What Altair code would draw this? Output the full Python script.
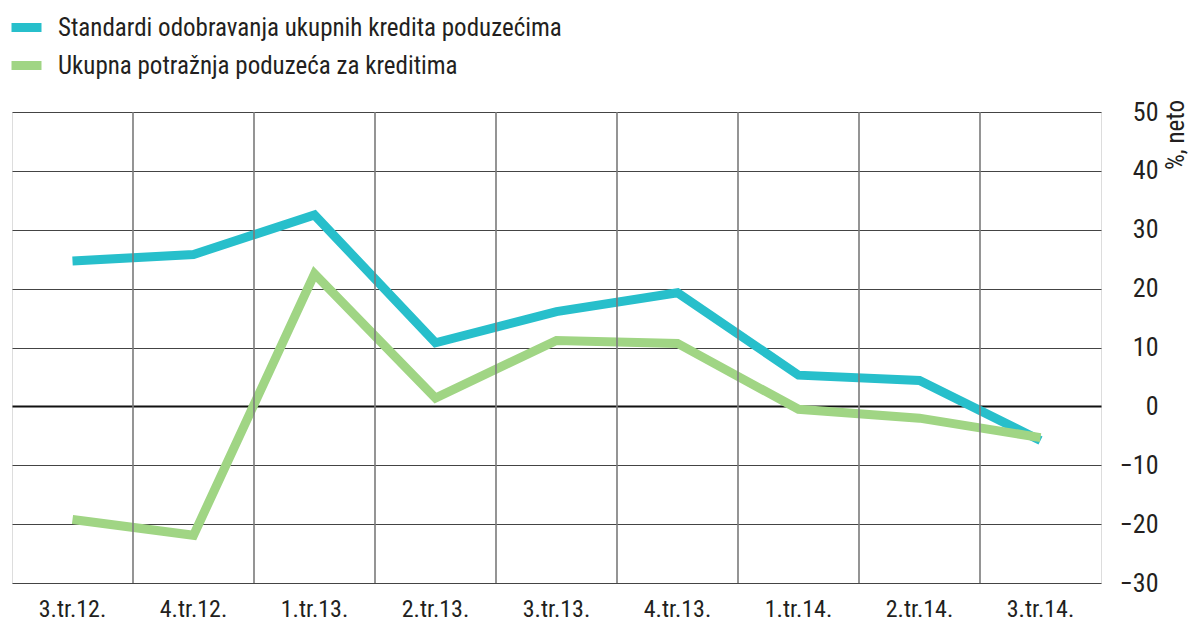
import altair as alt
import pandas as pd

quarters = ["3.tr.12.", "4.tr.12.", "1.tr.13.", "2.tr.13.", "3.tr.13.",
            "4.tr.13.", "1.tr.14.", "2.tr.14.", "3.tr.14."]
series_names = ["Standardi odobravanja ukupnih kredita poduzećima",
                "Ukupna potražnja poduzeća za kreditima"]
standards = [24.7, 25.8, 32.5, 10.8, 16.1, 19.3, 5.3, 4.4, -5.8]
demand = [-19.2, -21.9, 22.5, 1.4, 11.2, 10.7, -0.5, -2.0, -5.3]
colors = ["#27BFCB", "#A0D584"]
y_ticks = [-30, -20, -10, 0, 10, 20, 30, 40, 50]
y_title = "%, neto"

FONT = "Roboto Condensed, DejaVu Sans Condensed, sans-serif"
TXT = "#231f20"

rows = []
for name, vals in zip(series_names, [standards, demand]):
    for q, v in zip(quarters, vals):
        rows.append({"q": q, "v": v, "s": name})
df = pd.DataFrame(rows)

x_scale = alt.Scale(domain=quarters, paddingInner=0, paddingOuter=0)
y_scale = alt.Scale(domain=[-30, 50], nice=False, zero=False)

lines = alt.Chart(df).mark_line(strokeWidth=9, strokeCap="butt").encode(
    x=alt.X("q:N", sort=quarters, scale=x_scale,
            axis=alt.Axis(title=None, ticks=False, domain=False, grid=False,
                          bandPosition=0.5,
                          labelAngle=0, labelFontSize=24, labelFont=FONT,
                          labelColor=TXT, labelPadding=14)),
    y=alt.Y("v:Q", scale=y_scale,
            axis=alt.Axis(orient="right", title=None, values=y_ticks,
                          ticks=False, tickSize=0, domain=False,
                          grid=True,
                          gridColor=alt.condition("datum.value == 0", alt.value("#111111"), alt.value("#444444")),
                          gridWidth=alt.condition("datum.value == 0", alt.value(2.2), alt.value(1)),
                          labelAlign="right", labelPadding=57, labelFlush=False,
                          labelOverlap=False, labelFontSize=26, labelFont=FONT,
                          labelColor=TXT)),
    color=alt.Color("s:N", sort=series_names,
                    scale=alt.Scale(domain=series_names, range=colors),
                    legend=alt.Legend(orient="none", legendX=-5, legendY=-104,
                                      title=None, symbolType="stroke",
                                      symbolStrokeWidth=9, symbolSize=900,
                                      labelFontSize=25, labelFont=FONT,
                                      labelColor=TXT, labelOffset=12,
                                      rowPadding=-9, padding=0, labelLimit=0)),
    order=alt.Order("s:N", sort="descending"),
)

grid_df = pd.DataFrame({"q": quarters[1:]})
vgrid = alt.Chart(grid_df).mark_rule(color="#7a7a7a", strokeWidth=1.6).encode(
    x=alt.X("q:N", sort=quarters, bandPosition=0, scale=x_scale),
)

title = alt.Chart(pd.DataFrame({"t": [y_title]})).mark_text(
    angle=270, align="left", baseline="middle", fontSize=25, font=FONT,
    color=TXT).encode(text="t:N", x=alt.value(1164), y=alt.value(58))

chart = alt.layer(lines, vgrid, title).properties(
    width=1089, height=471,
    autosize=alt.AutoSizeParams(type="none"),
    padding={"left": 4, "top": 104, "right": 91, "bottom": 41},
).configure_view(stroke="#333333", strokeWidth=2.5).configure(background="white")

chart.save("out.html", embed_options={"renderer": "svg", "actions": False})
